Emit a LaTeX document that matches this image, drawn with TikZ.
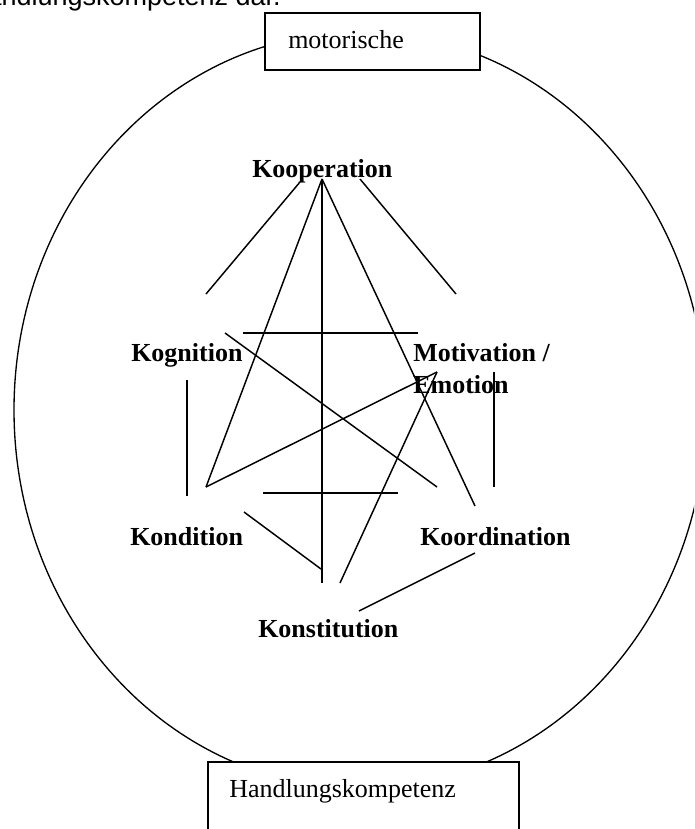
\documentclass[tikz,border=0pt]{standalone}
\usepackage{fontspec}
\setmainfont{Liberation Serif}
\newfontfamily\arialfont{Liberation Sans}
\usetikzlibrary{positioning}
\tikzset{
  term/.style={anchor=base west, inner sep=0pt, font=\fontsize{19.5}{24}\selectfont\bfseries},
  boxtext/.style={anchor=base west, inner sep=0pt, font=\fontsize{19.5}{24}\selectfont},
  textbox/.style={draw=black, fill=white, line width=1.4pt},
  link/.style={black, line width=1.1pt},
  outline/.style={black, line width=1pt},
}

\begin{document}
\begin{tikzpicture}[x=0.75pt,y=-0.75pt]
  \useasboundingbox (0,0) rectangle (694,829);
  \clip (0,0) rectangle (694,829);

  % running text above the figure
  \node[anchor=base east, inner sep=0pt, font=\arialfont\fontsize{20.25}{24}\selectfont]
    (caption) at (281,5) {Handlungskompetenz dar.};

  % the big oval
  \draw[outline] (360,410) ellipse [x radius=346, y radius=378];

  % frames on top and bottom
  \draw[textbox] (265,13) rectangle (480,70);
  \node[boxtext] (mot) at (288,48) {motorische};
  \draw[textbox] (208,762) rectangle (519,850);
  \node[boxtext] (hk) at (229,797) {Handlungskompetenz};

  % the six terms
  \node[term] (koop) at (252,177) {Kooperation};
  \node[term] (kogn) at (131,361) {Kognition};
  \node[term] (motiv) at (413,361) {Motivation /};
  \node[term] (emot) at (413,393) {Emotion};
  \node[term] (kond) at (130,545) {Kondition};
  \node[term] (koord) at (420,545) {Koordination};
  \node[term] (konst) at (258,637) {Konstitution};

  % line ends
  \coordinate (koop-l) at (300,182);
  \coordinate (koop-c) at (322,179);
  \coordinate (koop-r) at (360,179);
  \coordinate (kogn-t) at (206,294);
  \coordinate (kogn-r) at (225,333);
  \coordinate (kogn-b) at (187,380);
  \coordinate (motiv-t) at (456,294);
  \coordinate (motiv-b) at (494,372);
  \coordinate (emo) at (437,372);
  \coordinate (kond-t) at (206,487);
  \coordinate (kond-l) at (187,496);
  \coordinate (kond-r) at (244,512);
  \coordinate (koord-t) at (475,506);
  \coordinate (koord-l) at (437,487);
  \coordinate (koord-r) at (494,487);
  \coordinate (koord-b) at (475,553);
  \coordinate (konst-c) at (322,583);
  \coordinate (konst-r) at (340,583);
  \coordinate (konst-t) at (321,569);
  \coordinate (konst-b) at (359,611);
  \coordinate (bar-tl) at (243,333);
  \coordinate (bar-tr) at (418,333);
  \coordinate (bar-bl) at (263,493);
  \coordinate (bar-br) at (398,493);

  % connections between the terms
  \foreach \a/\b in {koop-l/kogn-t, koop-r/motiv-t, koop-c/konst-c, koop-c/kond-t,
                     koop-c/koord-t, bar-tl/bar-tr, kogn-r/koord-l, kond-t/emo,
                     emo/konst-r, kogn-b/kond-l, motiv-b/koord-r, bar-bl/bar-br,
                     kond-r/konst-t, koord-b/konst-b}
    \draw[link] (\a)--(\b);
\end{tikzpicture}
\end{document}
